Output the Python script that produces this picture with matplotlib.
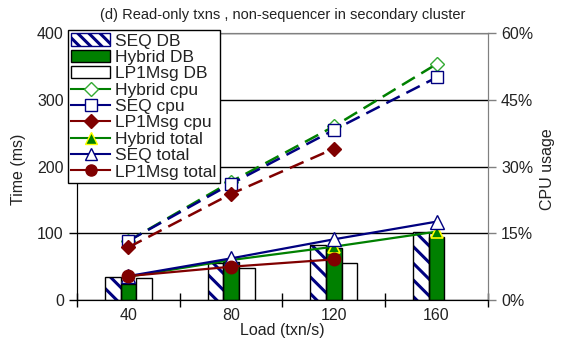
import matplotlib
matplotlib.use("Agg")
import matplotlib.pyplot as plt
import numpy as np
from matplotlib.lines import Line2D
from matplotlib.patches import Patch
from matplotlib.ticker import FuncFormatter, FixedLocator

plt.rcParams['font.family'] = ['Liberation Sans', 'DejaVu Sans']
plt.rcParams['hatch.linewidth'] = 2.2

loads = [40, 80, 120, 160]
seq_db = [34, 55, 82.5, 102.5]
hybrid_db = [24, 57.5, 77.5, 95]
lp1_db = [32.5, 47.5, 55, np.nan]
hybrid_cpu = [13.3, 26.6, 39.0, 53.0]
seq_cpu = [13.3, 26.1, 38.2, 50.0]
lp1_cpu = [11.85, 23.85, 34.0, np.nan]
hybrid_total = [35, 60, 80, 102.5]
seq_total = [36, 62.5, 91, 117.5]
lp1_total = [36, 50, 61, np.nan]

NAVY = '#000080'
GREEN = '#008000'
LGREEN = '#33aa33'
DRED = '#800000'
TXT = '#222222'

fig = plt.figure(figsize=(5.66, 3.43), dpi=100)
ax = fig.add_axes([0.136, 0.125, 0.726, 0.779])
ax2 = ax.twinx()

x = np.array(loads, dtype=float)
bw = 6.1
ax.bar(x - bw, seq_db, width=bw, color='white', edgecolor=NAVY, hatch='\\\\', linewidth=0, zorder=2)
ax.bar(x - bw, seq_db, width=bw, facecolor='none', edgecolor='black', linewidth=1, zorder=2.1)
ax.bar(x, hybrid_db, width=bw, color=GREEN, edgecolor='black', linewidth=1, zorder=2)
ax.bar(x + bw, lp1_db, width=bw, color='white', edgecolor='black', linewidth=1, zorder=2)

ax.plot(x, hybrid_total, '-', color=GREEN, lw=1.6, marker='^', ms=9, mfc=GREEN, mec='#ffff00', mew=1.2, zorder=5)
ax.plot(x, seq_total, '-', color=NAVY, lw=1.6, marker='^', ms=10, mfc='white', mec=NAVY, mew=1, zorder=5)
ax.plot(x, lp1_total, '-', color=DRED, lw=1.6, marker='o', ms=9, mfc=DRED, mec=DRED, zorder=5)

dash = (0, (6, 3))
ax2.plot(x, hybrid_cpu, linestyle=dash, color=GREEN, lw=1.8, marker='D', ms=7, mfc='white', mec=LGREEN, mew=1)
ax2.plot(x, seq_cpu, linestyle=dash, color=NAVY, lw=1.8, marker='s', ms=9, mfc='white', mec=NAVY, mew=1)
ax2.plot(x, lp1_cpu, linestyle=dash, color=DRED, lw=1.8, marker='D', ms=7, mfc=DRED, mec=DRED)

ax.set_xlim(20, 180)
ax.set_ylim(0, 400)
ax2.set_ylim(0, 60)
ax.set_yticks([0, 100, 200, 300, 400])
ax2.set_yticks([0, 15, 30, 45, 60])
ax2.yaxis.set_major_formatter(FuncFormatter(lambda v, p: f"{int(v)}%"))
ax.yaxis.grid(True, color='black', lw=1)
ax.set_axisbelow(True)

ax.set_xticks(loads)
ax.set_xticklabels([str(v) for v in loads])
ax.tick_params(axis='x', which='major', length=0, labelsize=11.5, pad=6, labelcolor=TXT)
ax.xaxis.set_minor_locator(FixedLocator([20, 60, 100, 140, 180]))
ax.tick_params(axis='x', which='minor', length=10, direction='inout', width=1)
ax.tick_params(axis='y', length=6, width=1, labelsize=11.5, direction='out', labelcolor=TXT)
ax2.tick_params(axis='y', length=6, width=1, labelsize=11.5, direction='out', color='#808080', labelcolor=TXT)

for a in (ax, ax2):
    a.spines['top'].set_color('#808080')
    a.spines['right'].set_color('#808080')
    a.spines['left'].set_color('black')
    a.spines['bottom'].set_color('black')

ax.set_xlabel('Load (txn/s)', fontsize=11.5, labelpad=0, color=TXT)
ax.set_ylabel('Time (ms)', fontsize=11.5, color=TXT)
ax.yaxis.set_label_coords(-0.124, 0.49)
ax2.set_ylabel('CPU usage', fontsize=11.5, color=TXT)
ax2.yaxis.set_label_coords(1.128, 0.49)
fig.text(0.5, 0.955, '(d) Read-only txns , non-sequencer in secondary cluster', ha='center', va='center',
         fontsize=10.5, color=TXT)

handles = [
    Patch(facecolor='white', edgecolor=NAVY, hatch='\\\\\\'),
    Patch(facecolor=GREEN, edgecolor='black'),
    Patch(facecolor='white', edgecolor='black'),
    Line2D([], [], color=GREEN, lw=1.5, marker='D', ms=7, mfc='white', mec=LGREEN),
    Line2D([], [], color=NAVY, lw=1.5, marker='s', ms=8, mfc='white', mec=NAVY),
    Line2D([], [], color=DRED, lw=1.5, marker='D', ms=7, mfc=DRED, mec=DRED),
    Line2D([], [], color=GREEN, lw=1.5, marker='^', ms=9, mfc=GREEN, mec='#ffff00'),
    Line2D([], [], color=NAVY, lw=1.5, marker='^', ms=9, mfc='white', mec=NAVY),
    Line2D([], [], color=DRED, lw=1.5, marker='o', ms=8, mfc=DRED, mec=DRED),
]
labels = ['SEQ DB', 'Hybrid DB', 'LP1Msg DB', 'Hybrid cpu', 'SEQ cpu', 'LP1Msg cpu',
          'Hybrid total', 'SEQ total', 'LP1Msg total']
leg = ax2.legend(handles, labels, loc='upper left', bbox_to_anchor=(68 / 566, 1 - 30 / 343),
                 bbox_transform=fig.transFigure, fontsize=12.5, frameon=True, fancybox=False,
                 edgecolor='black', framealpha=1, borderpad=0.2, labelspacing=0.07,
                 handlelength=2.2, handletextpad=0.3, borderaxespad=0)
for t in leg.get_texts():
    t.set_color(TXT)
leg.get_frame().set_linewidth(1)
leg.set_zorder(10)

fig.savefig('out.png', dpi=100)
